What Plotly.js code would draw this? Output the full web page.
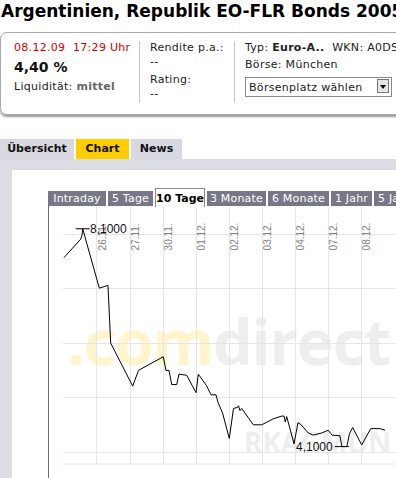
<!DOCTYPE html>
<html><head><meta charset="utf-8">
<script src="https://cdn.plot.ly/plotly-3.0.1.min.js"></script>
<style>
html,body{margin:0;padding:0;width:396px;height:478px;overflow:hidden;background:#fff;font-family:"DejaVu Sans",Verdana,sans-serif;}
.a{position:absolute;white-space:nowrap;}
.t11{font-size:11px;line-height:11px;color:#222;letter-spacing:0.3px;}
#title{left:1px;top:3px;font-size:17px;line-height:17px;font-weight:bold;color:#000;}
#box{left:0;top:32px;width:430px;height:81px;border:1px solid #a9a9a9;border-radius:7px;box-shadow:0 2px 2px #9a9a9a;}
.vdiv{width:1px;background:#c8c8c8;top:41px;height:62px;}
#sel{left:245px;top:77px;width:145px;height:18px;border:1px solid #8a8a8a;background:#fff;}
#selbtn{left:377px;top:79px;width:12px;height:14px;background:#e4e4e4;border:1px solid #777;box-sizing:border-box;}
.tab{top:139px;height:20px;font-size:11px;line-height:20px;font-weight:bold;text-align:center;color:#111;background:#d8d8e0;}
#band{left:0;top:159px;width:396px;height:11px;background:#dcdce5;}
#lstrip{left:0;top:170px;width:12px;height:308px;background:#dcdce5;}
.ctab{top:191px;height:15px;font-size:11px;line-height:15px;text-align:center;color:#fff;background:#777787;letter-spacing:0.2px;}
#frame{left:48px;top:206px;width:1px;height:272px;background:#6c6c6c;}
.wm{font-family:"Open Sans",sans-serif;font-weight:700;}
#plot{position:absolute;left:48px;top:206px;width:348px;height:272px;}
</style></head>
<body>
<div class="a" id="title">Argentinien, Republik EO-FLR Bonds 2005</div>
<div class="a" id="box"></div>
<div class="a t11" style="left:14px;top:42px;color:#d00000;">08.12.09&nbsp;&nbsp;17:29 Uhr</div>
<div class="a" style="left:14px;top:60px;font-size:14px;line-height:14px;font-weight:bold;color:#111;">4,40 %</div>
<div class="a t11" style="left:14px;top:81px;">Liquidität: <b style="color:#666;">mittel</b></div>
<div class="a vdiv" style="left:139px;"></div>
<div class="a t11" style="left:150px;top:42px;">Rendite p.a.:</div>
<div class="a t11" style="left:150px;top:56px;">--</div>
<div class="a t11" style="left:150px;top:74px;">Rating:</div>
<div class="a t11" style="left:150px;top:88px;">--</div>
<div class="a vdiv" style="left:234px;"></div>
<div class="a t11" style="left:245px;top:42px;">Typ: <b>Euro-A..</b>&nbsp;&nbsp;WKN: A0DSGJ</div>
<div class="a t11" style="left:245px;top:59px;">Börse: München</div>
<div class="a" id="sel"></div>
<div class="a t11" style="left:249px;top:82px;">Börsenplatz wählen</div>
<div class="a" id="selbtn"><div style="margin:5px auto 0;width:0;height:0;border-left:3px solid transparent;border-right:3px solid transparent;border-top:4px solid #000;"></div></div>

<div class="a tab" style="left:0;width:74px;">Übersicht</div>
<div class="a tab" style="left:76px;width:53px;background:#ffcc00;">Chart</div>
<div class="a tab" style="left:131px;width:51px;">News</div>
<div class="a" id="band"></div>
<div class="a" id="lstrip"></div>

<div class="a ctab" style="left:48px;width:58px;">Intraday</div>
<div class="a ctab" style="left:108px;width:45px;">5 Tage</div>
<div class="a ctab" style="left:155px;top:188px;height:18px;line-height:20px;width:48px;background:#fff;color:#000;font-weight:bold;border:1px solid #8a8a8a;border-bottom:none;letter-spacing:0;">10 Tage</div>
<div class="a ctab" style="left:207px;width:59px;">3 Monate</div>
<div class="a ctab" style="left:268px;width:61px;">6 Monate</div>
<div class="a ctab" style="left:331px;width:41px;">1 Jahr</div>
<div class="a ctab" style="left:374px;width:60px;text-align:left;padding-left:4px;">5 Jahre</div>
<div class="a" id="frame"></div>

<div class="a wm" style="left:67px;top:309px;font-size:63px;line-height:63px;letter-spacing:-1.3px;"><span style="color:#fff4cc;">.com</span><span style="color:#eeeeee;">direct</span></div>
<div class="a wm" style="left:244px;top:428px;font-size:28px;line-height:28px;color:#eeeeee;">RKAGMUN</div>

<div id="plot"></div>
<script>
// trading-day position (0 = start of 25.11.) and bond price
const t = [0, 0.506, 0.545, 0.567, 1.07, 1.294, 1.333, 1.415, 2.082, 2.258, 3.009, 3.09, 3.18, 3.264, 3.415, 3.485, 3.718, 4.0, 4.07, 4.318, 4.455, 4.606, 4.667, 4.803, 5.009, 5.136, 5.258, 5.288, 5.333, 5.385, 5.736, 5.991, 6.342, 6.597, 6.667, 6.706, 6.748, 6.97, 7.09, 7.19, 7.40, 7.555, 7.81, 8.01, 8.12, 8.36, 8.42, 8.57, 8.65, 8.748, 9.02, 9.294, 9.576, 9.727];
const price = [7.57, 7.91, 7.98, 8.10, 7.01, 7.05, 7.06, 6.00, 5.21, 5.50, 5.75, 5.50, 5.50, 5.24, 5.24, 5.43, 5.41, 5.09, 5.43, 5.22, 5.05, 5.05, 4.91, 4.72, 4.25, 4.80, 4.82, 4.85, 4.76, 4.80, 4.50, 4.50, 4.61, 4.66, 4.66, 4.55, 4.65, 4.15, 4.54, 4.50, 4.35, 4.31, 4.35, 4.40, 4.31, 4.30, 4.10, 4.10, 4.34, 4.45, 4.13, 4.43, 4.43, 4.40];
const dayTicks = [1, 2, 3, 4, 5, 6, 7, 8, 9];
const dayLabels = ["26.11.", "27.11.", "30.11.", "01.12.", "02.12.", "03.12.", "04.12.", "07.12.", "08.12."];
const yTicks = [4, 5, 6, 7, 8];

const iMax = price.indexOf(Math.max(...price));
const iMin = price.indexOf(Math.min(...price));
const fmt = v => v.toFixed(4).replace('.', ',');
const grid = '#e6e6e6';

const traces = [
  {x: t, y: price, type: 'scatter', mode: 'lines', line: {color: '#000', width: 1}, hoverinfo: 'skip'},
  {x: [t[iMax], t[iMin]], y: [price[iMax], price[iMin]], type: 'scatter', mode: 'markers',
   marker: {symbol: 'line-ew', size: 10, line: {color: '#000', width: 1}}, hoverinfo: 'skip'}
];
const layout = {
  width: 348, height: 272,
  margin: {l: 15, r: 0, t: 1, b: 14},
  paper_bgcolor: 'rgba(0,0,0,0)', plot_bgcolor: 'rgba(0,0,0,0)',
  showlegend: false,
  xaxis: {range: [-0.03, 10.06], tickvals: dayTicks, ticktext: dayLabels, side: 'top', anchor: 'free', position: 0.831,
          tickangle: -90, ticklabelshift: 6, ticklabelstandoff: 0, ticks: '', showline: false, zeroline: false,
          showgrid: true, gridcolor: grid, gridwidth: 1, automargin: false,
          tickfont: {family: 'Liberation Sans, Arial, sans-serif', size: 10, color: '#808080'}},
  yaxis: {range: [3.78, 8.5], tickvals: yTicks, showticklabels: false, ticks: '', showline: false, zeroline: false,
          showgrid: true, gridcolor: grid, gridwidth: 1},
  shapes: [{type: 'line', xref: 'paper', yref: 'paper', x0: 0, x1: 1, y0: 0, y1: 0, line: {color: grid, width: 1}}],
  annotations: [
    {x: t[iMax], y: price[iMax], text: fmt(price[iMax]), showarrow: false, xanchor: 'left', yanchor: 'middle', xshift: 5,
     font: {family: 'Liberation Sans, Arial, sans-serif', size: 12, color: '#111'}},
    {x: t[iMin], y: price[iMin], text: fmt(price[iMin]), showarrow: false, xanchor: 'right', yanchor: 'middle', xshift: -7,
     font: {family: 'Liberation Sans, Arial, sans-serif', size: 12, color: '#111'}}
  ]
};
Plotly.newPlot('plot', traces, layout, {staticPlot: true, displayModeBar: false});
</script>
</body></html>
